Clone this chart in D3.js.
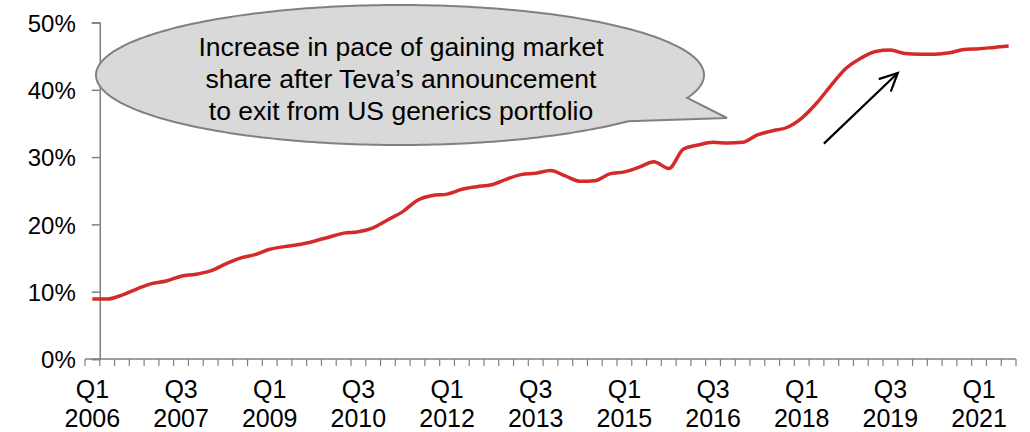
<!DOCTYPE html>
<html>
<head>
<meta charset="utf-8">
<script src="https://cdn.jsdelivr.net/npm/d3@7"></script>
<style>
  body { margin: 0; background: #fff; }
  svg { display: block; font-family: "Liberation Sans", Arial, sans-serif; }
</style>
</head>
<body>
<div id="chart"></div>
<script>
// quarterly share, Q1 2006 .. Q3 2021 (percent)
const startYear = 2006;
const share = [
  8.9, 8.9, 9.5, 10.4, 11.2, 11.6, 12.3, 12.6, 13.1, 14.1,
  15.0, 15.5, 16.3, 16.7, 17.0, 17.5, 18.1, 18.7, 18.9, 19.5,
  20.7, 21.9, 23.6, 24.3, 24.5, 25.2, 25.6, 25.9, 26.7, 27.4,
  27.6, 28.0, 27.2, 26.4, 26.5, 27.5, 27.8, 28.5, 29.3, 28.3,
  31.2, 31.8, 32.2, 32.1, 32.2, 33.3, 33.9, 34.4, 35.8, 38.0,
  40.7, 43.2, 44.7, 45.7, 45.9, 45.4, 45.3, 45.3, 45.5, 46.0,
  46.1, 46.3, 46.5
];
const quarters = share.map((d, i) => ({
  q: "Q" + ((i % 4) + 1),
  year: String(startYear + Math.floor(i / 4))
}));
const yTicks = [0, 10, 20, 30, 40, 50];
const labelEvery = 6;
const calloutLines = [
  "Increase in pace of gaining market",
  "share after Teva\u2019s announcement",
  "to exit from US generics portfolio"
];

const width = 1030;
const height = 432;

const svg = d3.select("#chart").append("svg")
  .attr("width", width)
  .attr("height", height);

const x = d3.scaleBand()
  .domain(d3.range(share.length))
  .range([85, 1016])
  .padding(0);
const cx = (i) => x(0) + x.bandwidth() / 2 + i * x.bandwidth();

const y = d3.scaleLinear().domain([0, 50]).range([359, 22.5]);

const axisColor = "#7f7f7f";
const axisX = x(1); // value axis crosses between 1st and 2nd category

// y axis
const yAxis = d3.axisLeft(y)
  .tickValues(yTicks)
  .tickSize(8)
  .tickFormat((d) => d + "%");
const gy = svg.append("g")
  .attr("transform", `translate(${axisX},0)`)
  .call(yAxis);
gy.select(".domain").attr("stroke", axisColor).attr("stroke-width", 1.5);
gy.selectAll(".tick line").attr("stroke", axisColor).attr("stroke-width", 1.5);
gy.selectAll(".tick text")
  .attr("x", -24)
  .attr("dy", "0.36em")
  .style("font-size", "24px")
  .attr("fill", "#000");

// x axis line + tick marks between categories
svg.append("line")
  .attr("x1", x.range()[0]).attr("x2", x.range()[1])
  .attr("y1", y(0)).attr("y2", y(0))
  .attr("stroke", axisColor).attr("stroke-width", 1.5);

const boundaries = d3.range(share.length + 1).map((i) => x(0) + i * x.bandwidth());
svg.append("g").selectAll("line")
  .data(boundaries)
  .join("line")
  .attr("x1", (d) => d).attr("x2", (d) => d)
  .attr("y1", y(0)).attr("y2", y(0) + 7)
  .attr("stroke", axisColor).attr("stroke-width", 1.2);

const xlab = svg.append("g").selectAll("text")
  .data(quarters.map((d, i) => ({ ...d, i })).filter((d) => d.i % labelEvery === 0))
  .join("text")
  .attr("text-anchor", "middle")
  .style("font-size", "25px")
  .attr("fill", "#000");
xlab.append("tspan").attr("x", (d) => cx(d.i)).attr("y", 398).text((d) => d.q);
xlab.append("tspan").attr("x", (d) => cx(d.i)).attr("y", 427).text((d) => d.year);

// callout bubble (annotation)
const ell = { cx: 400, cy: 75, rx: 304, ry: 70 };
const tA = 0.721, tB = 2 * Math.PI + 0.334;
const pts = d3.range(tA, tB, 0.02).map((t) => [ell.cx + ell.rx * Math.cos(t), ell.cy + ell.ry * Math.sin(t)]);
pts.push([ell.cx + ell.rx * Math.cos(tB), ell.cy + ell.ry * Math.sin(tB)]);
pts.push([727, 118]);
svg.append("path")
  .attr("d", d3.line()(pts) + "Z")
  .attr("fill", "#d9d9d9")
  .attr("stroke", "#808080")
  .attr("stroke-width", 2);

svg.append("g").selectAll("text")
  .data(calloutLines)
  .join("text")
  .attr("x", 401)
  .attr("y", (d, i) => 56 + i * 32)
  .attr("text-anchor", "middle")
  .style("font-size", "26.5px")
  .attr("fill", "#000")
  .text((d) => d);

// line
const line = d3.line()
  .x((d, i) => cx(i))
  .y((d) => y(d))
  .curve(d3.curveMonotoneX);

svg.append("path")
  .datum(share)
  .attr("d", line)
  .attr("fill", "none")
  .attr("stroke", "#d42a2a")
  .attr("stroke-width", 3.5)
  .attr("stroke-linejoin", "round");

// arrow
const tail = [cx(49.5), y(32.0)];
const head = [cx(54.5), y(42.5)];
svg.append("line")
  .attr("x1", tail[0]).attr("y1", tail[1])
  .attr("x2", head[0]).attr("y2", head[1])
  .attr("stroke", "#000").attr("stroke-width", 2.2);
const ang = Math.atan2(head[1] - tail[1], head[0] - tail[0]);
const hl = 20, spread = 0.45;
svg.append("path")
  .attr("d", d3.line()([
    [head[0] - hl * Math.cos(ang - spread), head[1] - hl * Math.sin(ang - spread)],
    head,
    [head[0] - hl * Math.cos(ang + spread), head[1] - hl * Math.sin(ang + spread)]
  ]))
  .attr("fill", "none")
  .attr("stroke", "#000")
  .attr("stroke-width", 2.2);
</script>
</body>
</html>
